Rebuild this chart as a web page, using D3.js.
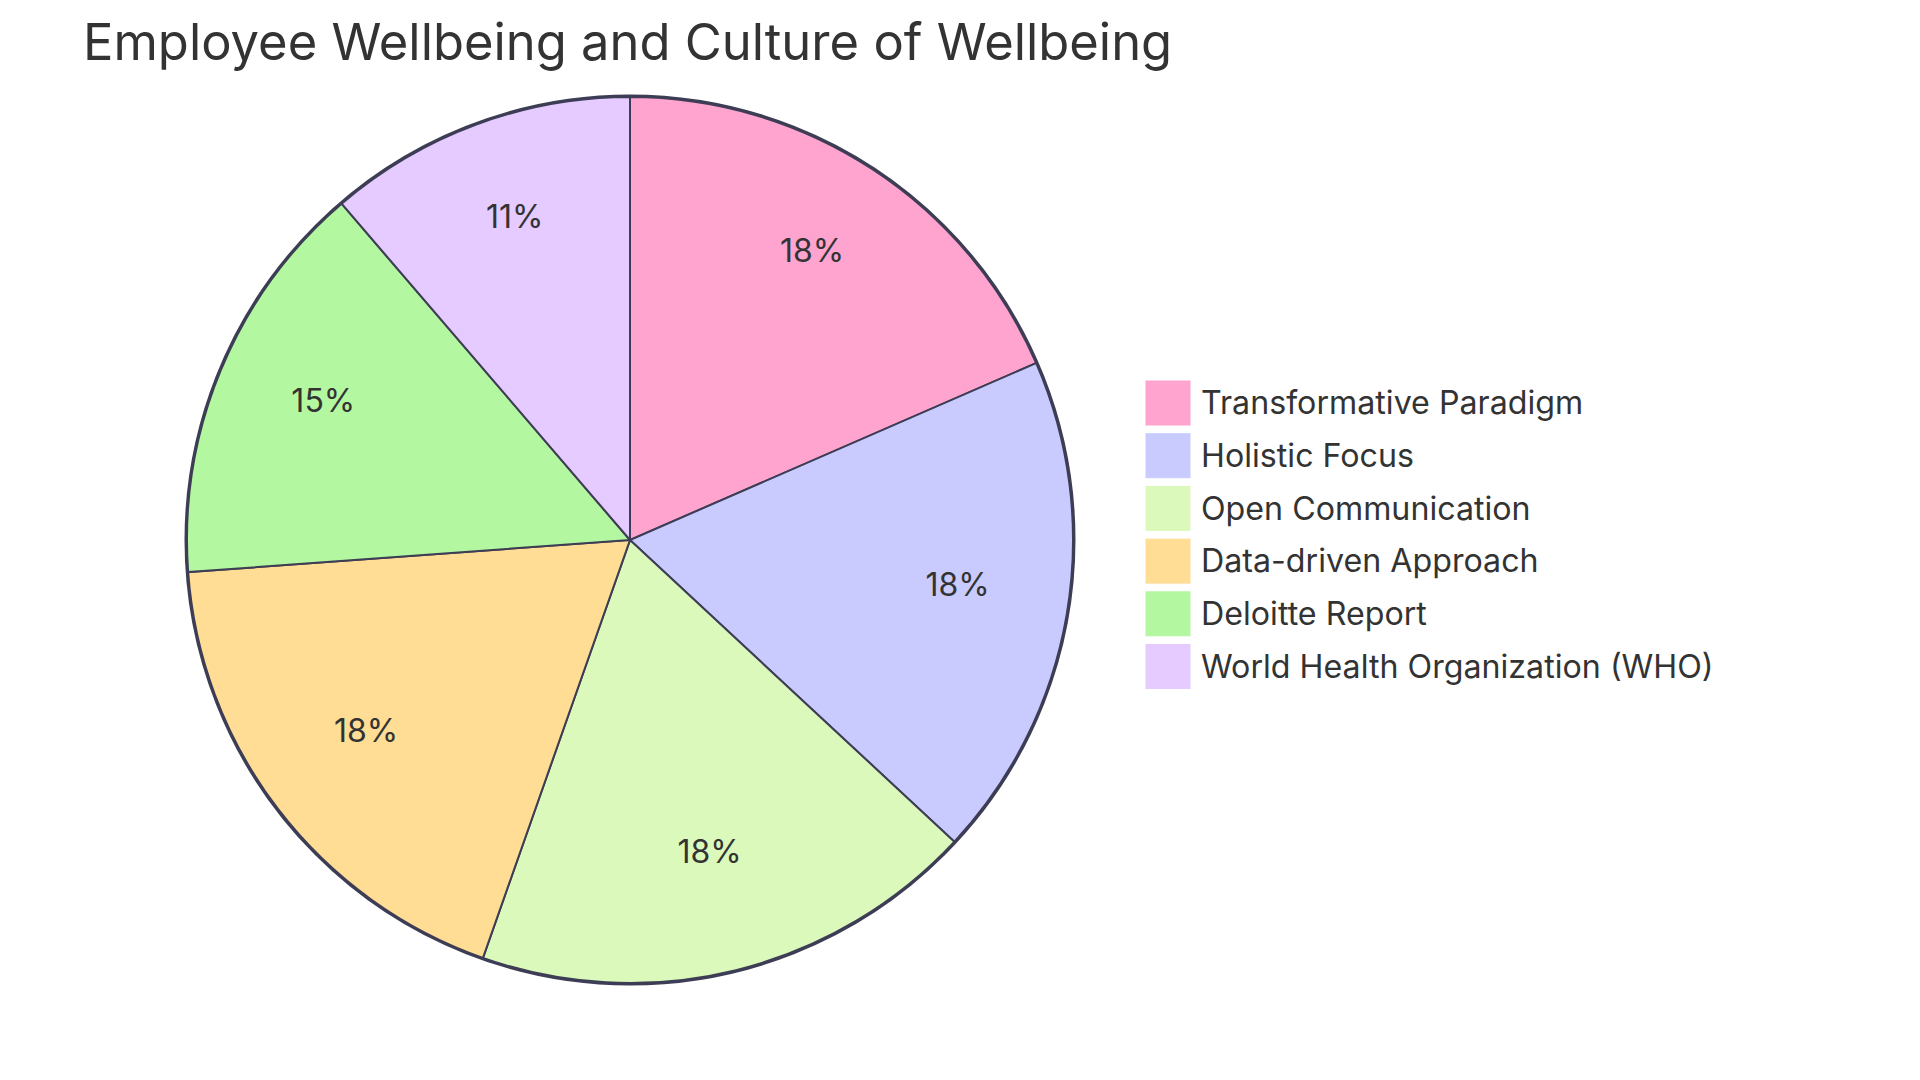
<!DOCTYPE html>
<html><head><meta charset="utf-8">
<script src="https://cdn.jsdelivr.net/npm/d3@7"></script>
<style>body{margin:0;background:#fff}svg{display:block}</style>
</head><body>
<svg id="c" width="1920" height="1080"></svg>
<script>
const title = "Employee Wellbeing and Culture of Wellbeing";
const categories = ["Transformative Paradigm","Holistic Focus","Open Communication","Data-driven Approach","Deloitte Report","World Health Organization (WHO)"];
const values = [18, 18, 18, 18, 14.5, 11];
const colors = ["#FFA3CF","#C9CBFF","#DBF9BB","#FFDD95","#B3F8A0","#E5CBFF"];

const svg = d3.select("#c");
const cx = 630, cy = 540, r = 443;
const font = "Inter, 'Noto Sans', sans-serif";
const data = categories.map((c,i)=>({name:c, value:values[i], color:colors[i]}));
const total = d3.sum(values);
const pie = d3.pie().value(d=>d.value).sort(null);
const arcs = pie(data);
const arc = d3.arc().innerRadius(0).outerRadius(r);
const labelArc = d3.arc().innerRadius(r*0.75).outerRadius(r*0.75);
const g = svg.append("g").attr("transform",`translate(${cx},${cy})`);
g.append("circle").attr("r", r+1).attr("fill","none").attr("stroke","#3d3d55").attr("stroke-width",3);
g.selectAll("path.s").data(arcs).enter().append("path").attr("class","s")
  .attr("d",arc).attr("fill",d=>d.data.color).attr("stroke","#3d3d55").attr("stroke-width",2);
g.selectAll("text.p").data(arcs).enter().append("text").attr("class","p")
  .attr("transform",d=>`translate(${labelArc.centroid(d)})`)
  .attr("text-anchor","middle")
  .style("font-family",font).style("font-size","32px").attr("fill","#333")
  .text(d=>Math.round(d.data.value/total*100)+"%");

svg.append("text").attr("x",83).attr("y",60).style("font-family",font).style("font-size","50.7px")
  .attr("fill","#333").text(title);

const lg = svg.append("g").attr("transform","translate(1146,381)");
const items = lg.selectAll("g").data(data).enter().append("g").attr("transform",(d,i)=>`translate(0,${i*52.7})`);
items.append("rect").attr("width",44).attr("height",44).attr("fill",d=>d.color).attr("stroke",d=>d.color);
items.append("text").attr("x",55).attr("y",22).attr("dy","0.35em").style("font-family",font).style("font-size","32.2px")
  .attr("fill","#333").text(d=>d.name);
</script>
</body></html>
